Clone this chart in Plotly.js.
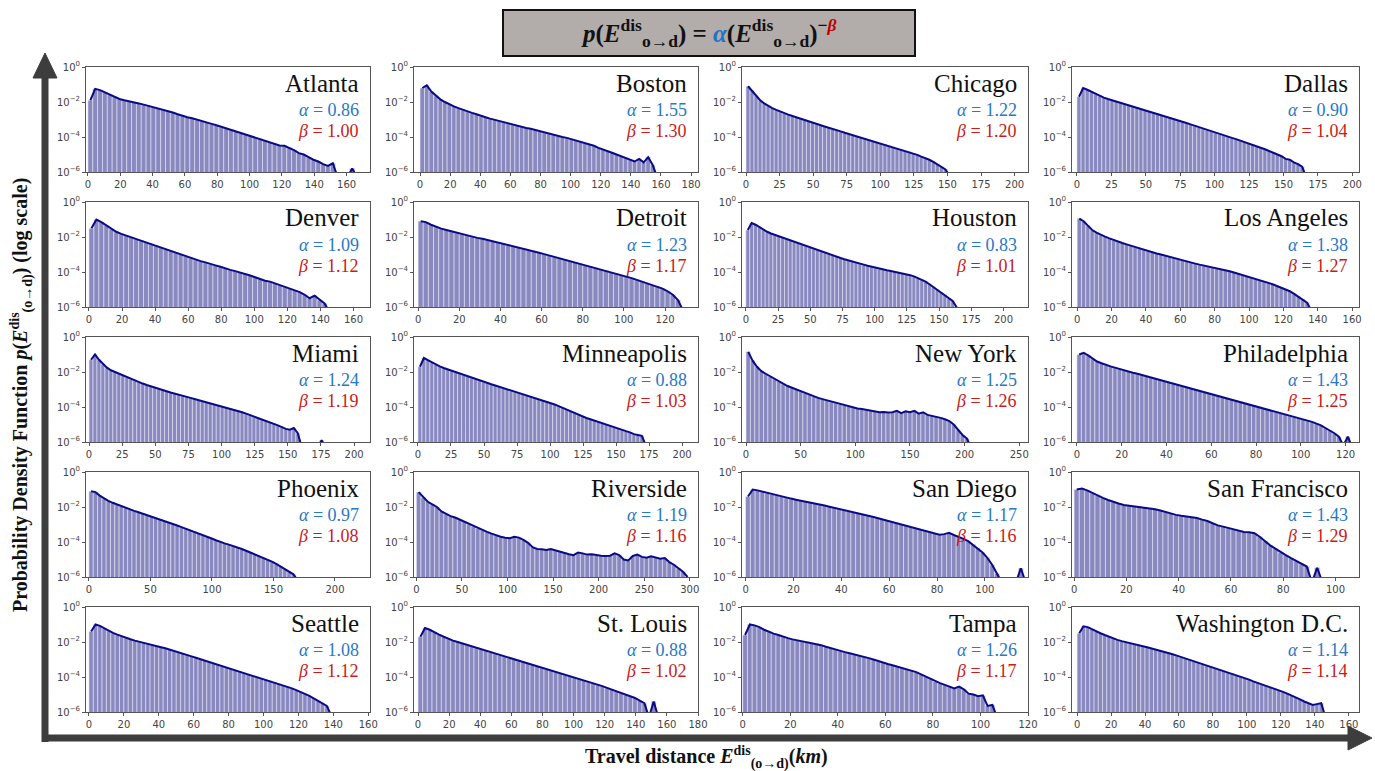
<!DOCTYPE html>
<html><head><meta charset="utf-8">
<script src="https://cdn.plot.ly/plotly-3.0.1.min.js"></script>
<style>html,body{margin:0;padding:0;background:#fff}#chart{width:1375px;height:771px}</style>
</head><body><div id="chart"></div>
<script>
// ---------------- DATA ----------------
const cities = ["Atlanta","Boston","Chicago","Dallas","Denver","Detroit","Houston","Los Angeles","Miami","Minneapolis","New York","Philadelphia","Phoenix","Riverside","San Diego","San Francisco","Seattle","St. Louis","Tampa","Washington D.C."];
const alphas = ["0.86","1.55","1.22","0.90","1.09","1.23","0.83","1.38","1.24","0.88","1.25","1.43","0.97","1.19","1.17","1.43","1.08","0.88","1.26","1.14"];
const betas  = ["1.00","1.30","1.20","1.04","1.12","1.17","1.01","1.27","1.19","1.03","1.26","1.25","1.08","1.16","1.16","1.29","1.12","1.02","1.17","1.14"];
// histogram bin widths (km)
const binWidths = [3,3,3,3,3,2.5,3,2.5,3,3,4,2,3.5,5,2,2,2.5,3,2,2.5];
// x tick steps and x ranges (km)
const xTickSteps = [20,20,25,25,20,20,25,20,25,25,50,20,50,50,20,20,20,20,20,20];
const xRanges = [[-1.2,174.5],[-4,184.6],[-3,210],[-3.6,204.8],[-1.8,170],[-2,136],[-3,219],[-3,164],
                 [-2.3,212],[-3,212],[-3.7,258],[-2.2,126],[-2.4,228.5],[-2.6,309],[-1.5,118],[-0.8,109],
                 [-1.7,161],[-2.6,180],[-0.3,120],[-3,166]];
// log10 of the probability density per bin (null = empty bin)
const atlantaLog = [-1.9,-1.25,-1.32,-1.45,-1.58,-1.7,-1.83,-1.9,-1.95,-2.02,-2.08,-2.15,-2.22,-2.28,-2.36,-2.45,-2.53,-2.6,-2.7,-2.8,-2.87,-2.93,-3.02,-3.1,-3.17,-3.25,-3.33,-3.42,-3.5,-3.58,-3.68,-3.78,-3.87,-3.95,-4.03,-4.1,-4.2,-4.3,-4.38,-4.48,-4.5,-4.62,-4.75,-4.92,-5.0,-5.15,-5.3,-5.4,-5.55,-5.65,-5.5,-6.3,null,-6.3,-5.8,-6.3];
const bostonLog = [-1.2,-1.05,-1.4,-1.65,-1.85,-2.0,-2.15,-2.25,-2.35,-2.45,-2.55,-2.62,-2.7,-2.8,-2.87,-2.95,-3.02,-3.08,-3.15,-3.22,-3.3,-3.36,-3.42,-3.48,-3.53,-3.6,-3.68,-3.76,-3.82,-3.88,-3.95,-4.0,-4.05,-4.12,-4.2,-4.25,-4.35,-4.42,-4.5,-4.62,-4.7,-4.8,-4.9,-5.0,-5.1,-5.2,-5.3,-5.4,-5.25,-5.45,-5.15,-5.6,-6.3];
const chicagoLog = [-1.1,-1.35,-1.65,-1.9,-2.08,-2.22,-2.35,-2.45,-2.55,-2.63,-2.72,-2.8,-2.88,-2.95,-3.02,-3.1,-3.18,-3.25,-3.32,-3.4,-3.47,-3.53,-3.6,-3.68,-3.76,-3.83,-3.9,-3.97,-4.04,-4.1,-4.16,-4.23,-4.3,-4.36,-4.42,-4.5,-4.57,-4.63,-4.7,-4.78,-4.85,-4.95,-5.02,-5.12,-5.2,-5.3,-5.42,-5.55,-5.7,-5.85,-6.2];
const dallasLog = [-1.7,-1.2,-1.3,-1.42,-1.55,-1.65,-1.75,-1.83,-1.9,-1.97,-2.05,-2.12,-2.18,-2.25,-2.32,-2.4,-2.48,-2.53,-2.6,-2.67,-2.74,-2.82,-2.9,-2.97,-3.05,-3.12,-3.2,-3.28,-3.36,-3.45,-3.53,-3.6,-3.68,-3.76,-3.84,-3.9,-3.97,-4.05,-4.12,-4.2,-4.28,-4.35,-4.43,-4.52,-4.6,-4.7,-4.8,-4.9,-5.0,-5.1,-5.25,-5.3,-5.45,-5.55,-5.7,-6.3];
const denverLog = [-1.5,-1.0,-1.15,-1.35,-1.55,-1.7,-1.82,-1.92,-2.02,-2.12,-2.22,-2.3,-2.4,-2.5,-2.6,-2.7,-2.8,-2.9,-3.0,-3.1,-3.2,-3.3,-3.38,-3.45,-3.55,-3.62,-3.7,-3.8,-3.88,-3.95,-4.02,-4.1,-4.2,-4.3,-4.4,-4.5,-4.55,-4.65,-4.75,-4.85,-4.95,-5.05,-5.15,-5.3,-5.5,-5.35,-5.6,-5.8,-6.3];
const detroitLog = [-1.1,-1.15,-1.3,-1.42,-1.52,-1.6,-1.68,-1.76,-1.85,-1.92,-1.99,-2.05,-2.1,-2.17,-2.24,-2.3,-2.38,-2.45,-2.52,-2.6,-2.67,-2.75,-2.82,-2.9,-2.98,-3.06,-3.14,-3.2,-3.28,-3.36,-3.45,-3.52,-3.6,-3.68,-3.76,-3.84,-3.92,-4.0,-4.08,-4.17,-4.25,-4.35,-4.45,-4.55,-4.65,-4.75,-4.85,-4.95,-5.1,-5.3,-5.6,-6.2];
const houstonLog = [-1.6,-1.2,-1.3,-1.45,-1.58,-1.7,-1.8,-1.88,-1.96,-2.04,-2.12,-2.2,-2.28,-2.36,-2.44,-2.52,-2.6,-2.68,-2.74,-2.82,-2.9,-2.97,-3.05,-3.12,-3.2,-3.27,-3.34,-3.4,-3.46,-3.52,-3.58,-3.64,-3.7,-3.76,-3.82,-3.86,-3.9,-3.94,-3.98,-4.02,-4.06,-4.12,-4.18,-4.25,-4.35,-4.45,-4.55,-4.7,-4.85,-5.0,-5.15,-5.3,-5.5,-5.65,-6.0,-6.3];
const losAngelesLog = [-0.95,-1.1,-1.35,-1.6,-1.75,-1.88,-1.98,-2.08,-2.18,-2.26,-2.34,-2.42,-2.5,-2.58,-2.65,-2.72,-2.8,-2.87,-2.94,-3.0,-3.07,-3.14,-3.2,-3.27,-3.34,-3.4,-3.46,-3.52,-3.58,-3.63,-3.68,-3.73,-3.78,-3.84,-3.9,-3.96,-4.03,-4.1,-4.18,-4.25,-4.33,-4.4,-4.48,-4.55,-4.63,-4.7,-4.8,-4.9,-5.0,-5.1,-5.25,-5.4,-5.55,-5.75,-6.2];
const miamiLog = [-1.3,-1.0,-1.3,-1.55,-1.75,-1.9,-2.0,-2.1,-2.2,-2.3,-2.4,-2.5,-2.58,-2.66,-2.74,-2.82,-2.9,-2.97,-3.03,-3.1,-3.17,-3.24,-3.3,-3.36,-3.42,-3.48,-3.54,-3.6,-3.67,-3.72,-3.78,-3.84,-3.9,-3.96,-4.02,-4.08,-4.15,-4.22,-4.3,-4.38,-4.46,-4.55,-4.63,-4.7,-4.78,-4.86,-4.95,-5.05,-5.15,-5.25,-5.3,-5.2,-5.5,-6.3,null,null,null,-6.3,-5.9,-6.3];
const minneapolisLog = [-1.7,-1.2,-1.32,-1.45,-1.57,-1.68,-1.77,-1.85,-1.93,-2.01,-2.1,-2.18,-2.26,-2.34,-2.42,-2.5,-2.58,-2.64,-2.7,-2.77,-2.84,-2.92,-3.0,-3.07,-3.14,-3.2,-3.27,-3.34,-3.41,-3.48,-3.55,-3.62,-3.7,-3.78,-3.86,-3.95,-4.05,-4.15,-4.25,-4.35,-4.45,-4.55,-4.63,-4.7,-4.78,-4.86,-4.94,-5.0,-5.08,-5.16,-5.22,-5.3,-5.38,-5.45,-5.55,-5.6,-5.65,-6.2];
const newYorkLog = [-0.85,-1.35,-1.7,-1.95,-2.1,-2.25,-2.4,-2.55,-2.68,-2.8,-2.9,-3.0,-3.12,-3.22,-3.3,-3.4,-3.48,-3.55,-3.62,-3.7,-3.77,-3.84,-3.9,-3.96,-4.02,-4.08,-4.12,-4.16,-4.2,-4.25,-4.3,-4.28,-4.32,-4.3,-4.22,-4.35,-4.25,-4.3,-4.22,-4.38,-4.3,-4.45,-4.5,-4.55,-4.62,-4.7,-4.8,-5.0,-5.3,-5.6,-5.8,-6.3];
const philadelphiaLog = [-1.0,-0.9,-1.05,-1.25,-1.4,-1.5,-1.6,-1.68,-1.75,-1.83,-1.9,-1.97,-2.04,-2.1,-2.17,-2.24,-2.3,-2.38,-2.45,-2.52,-2.6,-2.67,-2.74,-2.8,-2.87,-2.94,-3.0,-3.08,-3.15,-3.22,-3.3,-3.37,-3.44,-3.5,-3.57,-3.64,-3.7,-3.78,-3.85,-3.92,-4.0,-4.07,-4.14,-4.2,-4.28,-4.35,-4.42,-4.5,-4.57,-4.64,-4.7,-4.78,-4.85,-4.95,-5.05,-5.2,-5.35,-5.5,-5.7,-6.2,-5.7,-6.3];
const phoenixLog = [-1.1,-1.15,-1.35,-1.52,-1.65,-1.76,-1.86,-1.96,-2.05,-2.14,-2.22,-2.3,-2.38,-2.46,-2.55,-2.64,-2.72,-2.8,-2.88,-2.97,-3.06,-3.15,-3.24,-3.32,-3.4,-3.5,-3.6,-3.7,-3.8,-3.9,-4.0,-4.08,-4.15,-4.22,-4.3,-4.4,-4.5,-4.6,-4.7,-4.8,-4.9,-5.0,-5.12,-5.25,-5.4,-5.55,-5.7,-5.85,-6.2];
const riversideLog = [-1.15,-1.45,-1.7,-1.85,-2.0,-2.25,-2.4,-2.52,-2.6,-2.72,-2.82,-2.98,-3.1,-3.22,-3.32,-3.42,-3.52,-3.62,-3.7,-3.76,-3.78,-3.7,-3.75,-3.88,-4.05,-4.3,-4.4,-4.42,-4.45,-4.4,-4.48,-4.55,-4.6,-4.7,-4.75,-4.6,-4.65,-4.72,-4.7,-4.76,-4.78,-4.8,-4.78,-4.65,-4.75,-5.0,-5.05,-4.8,-4.72,-4.85,-4.9,-4.82,-4.88,-4.95,-4.92,-5.15,-5.3,-5.5,-5.7,-6.0];
const sanDiegoLog = [-1.4,-1.0,-1.05,-1.12,-1.2,-1.28,-1.35,-1.4,-1.46,-1.52,-1.58,-1.63,-1.68,-1.74,-1.8,-1.86,-1.92,-1.98,-2.04,-2.1,-2.18,-2.24,-2.3,-2.36,-2.43,-2.5,-2.56,-2.63,-2.7,-2.77,-2.84,-2.92,-3.0,-3.07,-3.14,-3.21,-3.28,-3.35,-3.42,-3.5,-3.58,-3.55,-3.48,-3.6,-3.7,-3.82,-3.95,-4.15,-4.35,-4.6,-4.9,-5.3,-5.8,-6.3,null,null,-6.3,-5.5,-6.3];
const sanFranciscoLog = [-1.0,-0.95,-1.05,-1.2,-1.35,-1.48,-1.6,-1.71,-1.8,-1.88,-1.92,-1.94,-1.97,-2.02,-2.08,-2.13,-2.2,-2.29,-2.36,-2.45,-2.5,-2.53,-2.57,-2.63,-2.72,-2.8,-2.93,-3.05,-3.12,-3.2,-3.28,-3.35,-3.43,-3.44,-3.5,-3.7,-3.95,-4.19,-4.38,-4.58,-4.75,-4.92,-5.09,-5.25,-5.4,-6.3,-5.47,-6.3];
const seattleLog = [-1.4,-1.0,-1.08,-1.22,-1.36,-1.48,-1.58,-1.68,-1.76,-1.84,-1.92,-1.99,-2.06,-2.12,-2.18,-2.24,-2.3,-2.36,-2.43,-2.5,-2.57,-2.65,-2.73,-2.82,-2.9,-2.98,-3.06,-3.14,-3.22,-3.3,-3.38,-3.46,-3.54,-3.62,-3.7,-3.78,-3.86,-3.93,-4.0,-4.08,-4.15,-4.22,-4.3,-4.38,-4.46,-4.55,-4.65,-4.75,-4.85,-4.95,-5.08,-5.22,-5.35,-5.5,-5.65,-6.2];
const stLouisLog = [-1.7,-1.2,-1.3,-1.45,-1.58,-1.7,-1.82,-1.92,-2.0,-2.08,-2.16,-2.24,-2.32,-2.4,-2.5,-2.6,-2.68,-2.76,-2.84,-2.92,-3.0,-3.08,-3.16,-3.24,-3.32,-3.4,-3.48,-3.56,-3.64,-3.72,-3.8,-3.88,-3.96,-4.04,-4.12,-4.2,-4.28,-4.36,-4.44,-4.52,-4.62,-4.72,-4.82,-4.92,-5.02,-5.12,-5.2,-5.35,-5.5,-6.3,-5.4,-6.3];
const tampaLog = [-1.6,-1.0,-1.05,-1.15,-1.3,-1.42,-1.52,-1.6,-1.7,-1.78,-1.85,-1.9,-1.94,-1.99,-2.04,-2.1,-2.18,-2.27,-2.35,-2.45,-2.52,-2.58,-2.64,-2.7,-2.77,-2.84,-2.92,-3.0,-3.1,-3.18,-3.26,-3.33,-3.4,-3.48,-3.56,-3.64,-3.72,-3.85,-3.98,-4.1,-4.25,-4.35,-4.45,-4.55,-4.65,-4.55,-4.7,-4.95,-5.0,-5.1,-5.05,-5.65,-5.6,-6.3];
const washingtonLog = [-1.5,-1.1,-1.15,-1.28,-1.4,-1.5,-1.6,-1.7,-1.8,-1.88,-1.95,-2.0,-2.06,-2.12,-2.18,-2.24,-2.3,-2.36,-2.42,-2.48,-2.55,-2.62,-2.7,-2.78,-2.86,-2.94,-3.02,-3.1,-3.18,-3.26,-3.33,-3.4,-3.48,-3.56,-3.64,-3.72,-3.8,-3.88,-3.96,-4.05,-4.15,-4.25,-4.33,-4.41,-4.49,-4.57,-4.65,-4.75,-4.85,-4.95,-5.05,-5.15,-5.28,-5.4,-5.5,-5.6,-5.55,-5.5,-6.3];
const seriesList = [atlantaLog,bostonLog,chicagoLog,dallasLog,denverLog,detroitLog,houstonLog,losAngelesLog,miamiLog,minneapolisLog,newYorkLog,philadelphiaLog,phoenixLog,riversideLog,sanDiegoLog,sanFranciscoLog,seattleLog,stLouisLog,tampaLog,washingtonLog];
const yTickVals = [1,1e-2,1e-4,1e-6];
const yTickText = ["10<sup>0</sup>","10<sup>−2</sup>","10<sup>−4</sup>","10<sup>−6</sup>"];

// ---------------- LAYOUT ----------------
const W = 1375, H = 771;
const colPx = [[86,370],[414,698],[742,1028],[1072,1359]];
const rowTop = [67,202,337,472,607];
const panelH = 105;
const fx = p => p / W;
const fy = p => 1 - p / H;
const SERIF = "Liberation Serif, Times New Roman, serif";
const SANS = "DejaVu Sans, Verdana, sans-serif";

const traces = [];
const layout = {
  width: W, height: H,
  margin: {l:0, r:0, t:0, b:0},
  paper_bgcolor: "#ffffff", plot_bgcolor: "#ffffff",
  showlegend: false, bargap: 0,
  annotations: [], shapes: []
};

cities.forEach((city, i) => {
  const r = Math.floor(i / 4), c = i % 4;
  const n = i + 1;
  const xa = n === 1 ? "x" : "x" + n, ya = n === 1 ? "y" : "y" + n;
  const xk = n === 1 ? "xaxis" : "xaxis" + n, yk = n === 1 ? "yaxis" : "yaxis" + n;
  const bw = binWidths[i];
  const vals = seriesList[i];
  const xs = vals.map((v, k) => (k + 0.5) * bw);
  const ys = vals.map(v => v === null ? null : Math.pow(10, v));
  traces.push({
    type: "bar", x: xs, y: ys, width: bw, xaxis: xa, yaxis: ya,
    marker: {color: "rgba(20,20,130,0.5)", line: {color: "rgba(235,235,250,0.85)", width: 0.7}},
    hoverinfo: "skip"
  });
  traces.push({
    type: "scatter", mode: "lines", x: xs, y: ys, xaxis: xa, yaxis: ya,
    line: {color: "#0a0a85", width: 2}, connectgaps: false, hoverinfo: "skip"
  });
  layout[xk] = {
    domain: [fx(colPx[c][0]), fx(colPx[c][1])], anchor: ya,
    range: xRanges[i], tick0: 0, dtick: xTickSteps[i],
    showgrid: false, zeroline: false, showline: true, mirror: true,
    linecolor: "#555", linewidth: 1, ticks: "outside", ticklen: 3, tickcolor: "#555",
    tickfont: {family: SANS, size: 10, color: "#444"}
  };
  layout[yk] = {
    domain: [fy(rowTop[r] + panelH), fy(rowTop[r])], anchor: xa,
    type: "log", range: [-6, 0], tickvals: yTickVals, ticktext: yTickText,
    showgrid: false, zeroline: false, showline: true, mirror: true,
    linecolor: "#555", linewidth: 1, ticks: "outside", ticklen: 3, tickcolor: "#555",
    tickfont: {family: SANS, size: 10, color: "#444"}
  };
  const xd = xa + " domain", yd = ya + " domain";
  layout.annotations.push({xref: xd, yref: yd, x: 0.968, y: 1 - 16/panelH, xanchor: "right", yanchor: "middle",
    text: city, showarrow: false, font: {family: SERIF, size: 25, color: "#111"}});
  layout.annotations.push({xref: xd, yref: yd, x: 0.968, y: 1 - 43/panelH, xanchor: "right", yanchor: "middle",
    text: "<i>α</i> = " + alphas[i], showarrow: false, font: {family: SERIF, size: 18, color: "#2a78c4"}});
  layout.annotations.push({xref: xd, yref: yd, x: 0.968, y: 1 - 64/panelH, xanchor: "right", yanchor: "middle",
    text: "<i>β</i> = " + betas[i], showarrow: false, font: {family: SERIF, size: 18, color: "#cc1a1a"}});
});

// title box
layout.shapes.push({type: "rect", xref: "paper", yref: "paper", x0: fx(503), x1: fx(915), y0: fy(56), y1: fy(10),
  fillcolor: "#b2acaa", line: {color: "#111", width: 2}, layer: "below"});
const Ed = "<i>E</i><sup>dis</sup><sub>o→d</sub>";
layout.annotations.push({xref: "paper", yref: "paper", x: fx(709), y: fy(33), xanchor: "center", yanchor: "middle",
  showarrow: false, font: {family: SERIF, size: 25, color: "#111"},
  text: "<b><i>p</i>(" + Ed + ") = <span style='color:#1f74c8'><i>α</i></span>(" + Ed + ")<sup>−<span style='color:#c00000'><i>β</i></span></sup></b>"});

// arrows (frame)
const AC = "#3d3d3d";
layout.shapes.push({type: "line", xref: "paper", yref: "paper", x0: fx(45), x1: fx(45), y0: fy(742), y1: fy(74), line: {color: AC, width: 7}});
layout.shapes.push({type: "path", xref: "paper", yref: "paper",
  path: `M ${fx(33)} ${fy(78)} L ${fx(45)} ${fy(53)} L ${fx(57)} ${fy(78)} Z`, fillcolor: AC, line: {color: AC, width: 1}});
layout.shapes.push({type: "line", xref: "paper", yref: "paper", x0: fx(42), x1: fx(1352), y0: fy(738), y1: fy(738), line: {color: AC, width: 7}});
layout.shapes.push({type: "path", xref: "paper", yref: "paper",
  path: `M ${fx(1348)} ${fy(726)} L ${fx(1372)} ${fy(738)} L ${fx(1348)} ${fy(750)} Z`, fillcolor: AC, line: {color: AC, width: 1}});

// axis titles
layout.annotations.push({xref: "paper", yref: "paper", x: fx(22), y: fy(395), xanchor: "center", yanchor: "middle",
  textangle: -90, showarrow: false, font: {family: SERIF, size: 20, color: "#111"},
  text: "<b>Probability Density Function <i>p</i>(<i>E</i><sup>dis</sup><sub>(o→d)</sub>) (log scale)</b>"});
layout.annotations.push({xref: "paper", yref: "paper", x: fx(706), y: fy(757), xanchor: "center", yanchor: "middle",
  showarrow: false, font: {family: SERIF, size: 20, color: "#111"},
  text: "<b>Travel distance <i>E</i><sup>dis</sup><sub>(o→d)</sub>(<i>km</i>)</b>"});

Plotly.newPlot("chart", traces, layout, {displayModeBar: false, staticPlot: true});
</script></body></html>
